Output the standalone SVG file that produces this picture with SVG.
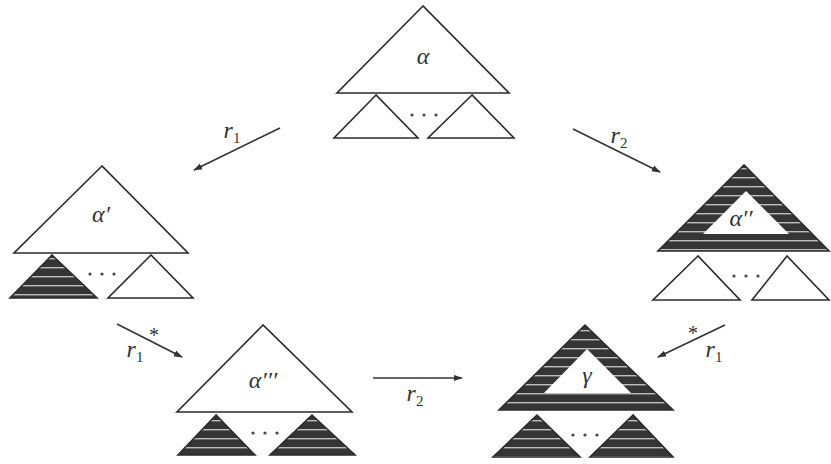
<svg xmlns="http://www.w3.org/2000/svg" width="831" height="464" viewBox="0 0 831 464">
<style>
.t{fill:#fff;stroke:#2b2b2b;stroke-width:1.6;stroke-linejoin:miter}
.d{fill:url(#hatch);stroke:#2b2b2b;stroke-width:1.6}
.w{fill:#fff;stroke:none}
.lbl{font-family:"Liberation Serif",serif;font-style:italic;font-size:24px;fill:#333;text-anchor:middle}
.sub{font-family:"Liberation Serif",serif;font-style:normal;font-size:15px;fill:#333}
.star{font-family:"Liberation Serif",serif;font-size:20px;fill:#333}
.dots{fill:#444}
.c{stroke:#333;stroke-width:1.6;fill:none;marker-end:url(#ah)}
</style>
<defs>
<pattern id="hatch" patternUnits="userSpaceOnUse" width="10" height="9">
<rect width="10" height="9" fill="#353535"/>
<rect y="6" width="10" height="1.4" fill="#bdbdbd"/>
</pattern>
<marker id="ah" viewBox="0 0 10 10" refX="9" refY="5" markerWidth="9" markerHeight="9" markerUnits="userSpaceOnUse" orient="auto">
<path d="M0,1.5 L10,5 L0,8.5 Z" fill="#333"/>
</marker>
<g id="dots3">
<circle cx="0" cy="0" r="1.6" class="dots"/>
<circle cx="12" cy="0" r="1.6" class="dots"/>
<circle cx="24" cy="0" r="1.6" class="dots"/>
</g>
</defs>
<rect width="831" height="464" fill="#fff"/>

<g id="node-alpha">
<polygon class="t" points="423,6 337,93 509,93"/>
<polygon class="t" points="376,95 334,138 418,138"/>
<polygon class="t" points="472,95 428,138 514,138"/>
<use href="#dots3" x="412" y="115"/>
<text class="lbl" x="423" y="64">α</text>
</g>

<g id="node-alpha1">
<polygon class="t" points="102,166 14,253 188,253"/>
<polygon class="d" points="52,255 10,298 97,298"/>
<polygon class="t" points="151,255 108,298 193,298"/>
<use href="#dots3" x="90" y="274"/>
<text class="lbl" x="101" y="222">α′</text>
</g>

<g id="node-alpha2">
<polygon class="d" points="744,165 658,251 829,251"/>
<polygon class="w" points="746,191 703,234 789,234"/>
<polygon class="t" points="698,256 653,300 740,300"/>
<polygon class="t" points="787,256 752,300 829,300"/>
<use href="#dots3" x="734" y="276"/>
<text class="lbl" x="741" y="226">α′′</text>
</g>

<g id="node-alpha3">
<polygon class="t" points="263,325 177,412 352,412"/>
<polygon class="d" points="216,415 178,455 255,455"/>
<polygon class="d" points="312,415 270,455 355,455"/>
<use href="#dots3" x="253" y="433"/>
<text class="lbl" x="263" y="388">α′′′</text>
</g>

<g id="node-gamma">
<polygon class="d" points="585,325 499,410 673,410"/>
<polygon class="w" points="587,349 544,393 631,393"/>
<polygon class="d" points="537,415 493,457 580,457"/>
<polygon class="d" points="633,415 590,457 673,457"/>
<use href="#dots3" x="573" y="435"/>
<text class="lbl" x="587" y="383">γ</text>
</g>

<g id="connectors">
<line class="c" x1="280" y1="128" x2="194" y2="170"/>
<line class="c" x1="573" y1="129" x2="660" y2="172"/>
<line class="c" x1="117" y1="324" x2="182" y2="357"/>
<line class="c" x1="373" y1="378" x2="462" y2="378"/>
<line class="c" x1="725" y1="325" x2="658" y2="357"/>
<text class="lbl" x="232" y="138">r<tspan class="sub" dy="5">1</tspan></text>
<text class="lbl" x="619" y="143">r<tspan class="sub" dy="5">2</tspan></text>
<text class="lbl" x="135" y="357">r<tspan class="sub" dy="5">1</tspan></text>
<text class="star" x="149" y="342">*</text>
<text class="lbl" x="415" y="401">r<tspan class="sub" dy="5">2</tspan></text>
<text class="lbl" x="714" y="357">r<tspan class="sub" dy="5">1</tspan></text>
<text class="star" x="688" y="340">*</text>
</g>
</svg>
